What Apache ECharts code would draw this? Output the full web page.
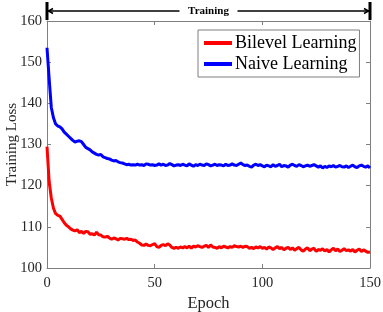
<!DOCTYPE html>
<html><head><meta charset="utf-8">
<script src="https://cdn.jsdelivr.net/npm/echarts@6/dist/echarts.min.js"></script>
<style>html,body{margin:0;padding:0;background:#fff}#c{width:383px;height:312px}</style>
</head><body><div id="c"></div>
<script>
const epochs = Array.from({length:151},(_,i)=>i);
const xTicks = [0,50,100,150];
const yTicks = [100,110,120,130,140,150,160];
const bilevel = [
129.5,121,117,114.5,113.2,112.8,112.6,111.8,111.0,110.4,110.0,
109.5,109.2,109.0,109.3,108.6,108.9,108.4,108.9,108.8,108.2,
108.3,108.0,108.7,108.1,108.0,107.6,107.5,107.7,107.3,107.0,
107.3,107.1,106.8,107.2,107.1,107.0,107.2,106.9,107.0,106.7,
106.8,106.3,106.0,105.6,105.5,105.8,105.5,105.4,105.7,105.9,
105.2,105.0,105.5,105.7,105.4,105.9,105.6,105.0,104.8,105.0,
104.8,105.1,104.9,105.2,104.9,105.3,104.8,105.3,105.1,105.4,
105.2,105.0,105.3,105.5,105.0,105.6,105.1,105.0,104.8,105.2,
104.9,105.3,105.1,104.9,105.2,105.0,105.4,105.2,105.1,105.3,
105.0,105.3,105.2,104.8,105.0,104.7,105.1,104.9,105.2,104.8,
105.0,104.6,105.1,104.9,104.5,104.9,105.2,104.7,105.0,104.4,
104.8,105.0,104.5,104.9,104.3,104.7,105.0,104.4,104.1,104.6,
104.9,104.2,104.6,104.8,104.0,104.5,104.3,104.7,104.1,104.5,
103.9,104.4,104.8,104.2,104.6,104.0,104.3,104.7,104.2,104.4,
104.1,104.5,103.9,104.3,104.6,104.0,104.4,104.1,103.8,103.9];
const naive = [
153.5,146,139,136.5,135,134.5,134.3,133.8,133,132.5,132,
131.5,131,130.6,130.8,130.9,130.7,130,129.3,129,128.7,
128.2,127.9,127.6,127.4,127.6,127.0,126.8,126.6,126.5,126.2,
126.0,126.1,125.8,125.6,125.5,125.3,125.1,125.2,125.0,125.1,
125.0,125.2,125.0,125.1,124.9,125.3,125.2,125.0,125.1,124.9,
125.0,125.3,125.0,125.2,124.9,125.0,125.4,125.1,124.8,125.0,
125.1,124.9,125.2,125.0,124.8,125.3,125.0,124.7,125.1,124.9,
125.2,125.0,124.9,125.3,125.1,124.8,125.0,125.2,124.9,125.1,
125.0,124.8,125.2,124.9,125.0,125.3,125.0,124.9,125.2,125.5,
125.1,124.9,125.0,124.7,124.5,125.0,125.2,124.9,125.1,124.8,
124.6,125.0,124.8,124.6,125.1,124.7,124.9,125.2,124.6,124.9,
124.8,124.5,125.0,125.2,124.9,124.7,125.1,124.9,124.6,124.8,
125.0,124.7,124.9,125.1,124.8,124.5,124.8,124.3,124.7,124.4,
124.8,124.6,124.9,124.5,124.7,124.9,124.6,124.5,124.8,124.4,
124.7,125.0,124.6,124.4,124.8,125.0,124.7,124.5,124.8,124.3];
const seriesNames = ['Bilevel Learning','Naive Learning'];
const seriesColors = ['#ff0000','#0000ff'];
const annotationText = 'Training';

const font = '"Liberation Serif", "Times New Roman", serif';
const axisCol = '#7f7f7f';
const chart = echarts.init(document.getElementById('c'), null, {renderer:'canvas'});
const baseX = {type:'value', min:0, max:150, interval:50,
  axisLine:{show:true,onZero:false,lineStyle:{color:axisCol,width:1}},
  axisTick:{show:true,inside:true,length:4,lineStyle:{color:axisCol}},
  splitLine:{show:false}};
const baseY = {type:'value', min:100, max:160, interval:10,
  axisLine:{show:true,onZero:false,lineStyle:{color:axisCol,width:1}},
  axisTick:{show:true,inside:true,length:4,lineStyle:{color:axisCol}},
  splitLine:{show:false}};
chart.setOption({
  animation:false,
  backgroundColor:'#fff',
  grid:{left:47,right:13,top:21,bottom:44,containLabel:false,outerBoundsMode:'none'},
  legend:{
    orient:'vertical', left:198, top:30,
    data:seriesNames,
    backgroundColor:'#fff', borderColor:'#7f7f7f', borderWidth:1,
    padding:[4,3,4,6], itemGap:3, itemWidth:28, itemHeight:4, icon:'rect',
    textStyle:{fontFamily:font,fontSize:18,color:'#000',padding:[0,0,0,-2]}
  },
  xAxis:[
    Object.assign({}, baseX, {position:'bottom',
      name:'Epoch', nameLocation:'middle', nameGap:27, nameMoveOverlap:false,
      nameTextStyle:{fontFamily:font,fontSize:16.5,color:'#262626'},
      axisLabel:{fontFamily:font,fontSize:14.5,color:'#262626',margin:8}}),
    Object.assign({}, baseX, {position:'top', axisLabel:{show:false}})
  ],
  yAxis:[
    Object.assign({}, baseY, {position:'left',
      name:'Training Loss', nameLocation:'middle', nameGap:27, nameMoveOverlap:false,
      nameTextStyle:{fontFamily:font,fontSize:15,color:'#262626'},
      axisLabel:{fontFamily:font,fontSize:14.5,color:'#262626',margin:5}}),
    Object.assign({}, baseY, {position:'right', axisLabel:{show:false}})
  ],
  series:[
    {name:seriesNames[0], type:'line', data:epochs.map((e,i)=>[e,bilevel[i]]),
     showSymbol:false, lineStyle:{color:seriesColors[0],width:3}, itemStyle:{color:seriesColors[0]}},
    {name:seriesNames[1], type:'line', data:epochs.map((e,i)=>[e,naive[i]]),
     showSymbol:false, lineStyle:{color:seriesColors[1],width:3}, itemStyle:{color:seriesColors[1]}}
  ]
});

// Annotation bracket above the plot, positioned from the x scale
const xa = chart.convertToPixel({xAxisIndex:0}, xTicks[0]);
const xb = chart.convertToPixel({xAxisIndex:0}, xTicks[xTicks.length-1]);
const yTop = chart.convertToPixel({yAxisIndex:0}, yTicks[yTicks.length-1]);
const yl = yTop - 10;
const xm = (xa + xb) / 2;
const gap = 29;
const st = {stroke:'#000', lineWidth:1.5};
chart.setOption({graphic:[
  {type:'line', shape:{x1:xa, y1:2, x2:xa, y2:yTop-1}, style:{stroke:'#000',lineWidth:3}},
  {type:'line', shape:{x1:xb, y1:2, x2:xb, y2:yTop-1}, style:{stroke:'#000',lineWidth:3}},
  {type:'line', shape:{x1:xa+1, y1:yl, x2:xm-gap, y2:yl}, style:st},
  {type:'line', shape:{x1:xm+gap, y1:yl, x2:xb-1, y2:yl}, style:st},
  {type:'polyline', shape:{points:[[xa+6,yl-2.5],[xa+1.5,yl],[xa+6,yl+2.5]]}, style:st},
  {type:'polyline', shape:{points:[[xb-6,yl-2.5],[xb-1.5,yl],[xb-6,yl+2.5]]}, style:st},
  {type:'text', x:xm, y:yl+0.5, style:{text:annotationText, fontFamily:font, fontSize:11, fontWeight:'bold',
     fill:'#000', align:'center', verticalAlign:'middle'}}
]});
</script></body></html>
